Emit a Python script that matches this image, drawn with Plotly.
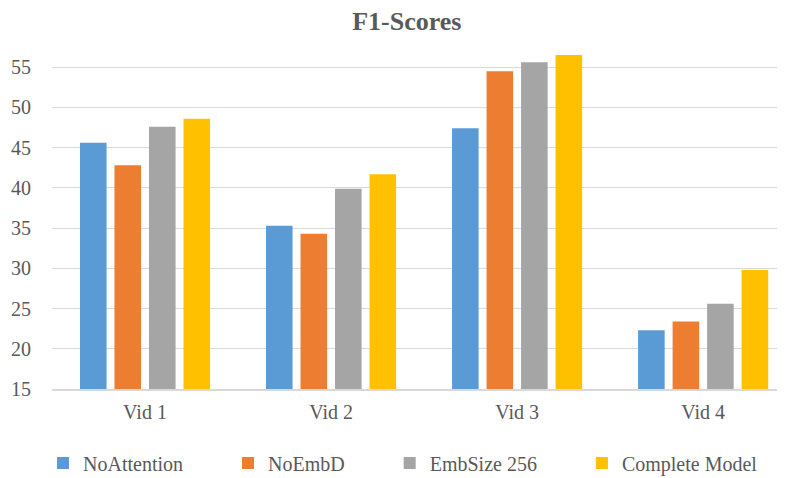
import plotly.graph_objects as go

categories = ["Vid 1", "Vid 2", "Vid 3", "Vid 4"]
series_names = ["NoAttention", "NoEmbD", "EmbSize 256", "Complete Model"]
no_attention = [45.6, 35.3, 47.4, 22.3]
no_embd = [42.8, 34.3, 54.5, 23.4]
emb_size_256 = [47.6, 39.9, 55.6, 25.6]
complete_model = [48.6, 41.7, 56.5, 29.8]
colors = ["#5B9BD5", "#ED7D31", "#A5A5A5", "#FFC000"]
y_ticks = [15, 20, 25, 30, 35, 40, 45, 50, 55]

font_family = "Liberation Serif, Times New Roman, serif"
text_color = "#595959"
pad = "\u00a0" * 8

fig = go.Figure()
all_series = [no_attention, no_embd, emb_size_256, complete_model]
for i, (name, vals, col) in enumerate(zip(series_names, all_series, colors)):
    label = name + (pad if i < len(series_names) - 1 else "")
    fig.add_trace(go.Bar(x=categories, y=vals, name=label,
                         marker=dict(color=col, line=dict(width=0))))

fig.update_layout(
    width=785, height=478,
    margin=dict(l=44, r=8, t=35, b=97, autoexpand=False),
    paper_bgcolor="white", plot_bgcolor="white",
    barmode="group", bargap=0.258, bargroupgap=0.23,
    title=dict(text="<b>F1-Scores</b>", x=0.508, xanchor="center",
               y=0.972, yanchor="middle",
               font=dict(family=font_family, size=26, color=text_color)),
    font=dict(family=font_family, color=text_color, size=20),
    xaxis=dict(range=[-0.5, 3.44], showgrid=False, showline=True,
               linecolor="#D9D9D9", linewidth=1.5, ticks="", ticklabelstandoff=4,
               tickfont=dict(size=20, color=text_color)),
    yaxis=dict(range=[15, 58], tickvals=y_ticks, showgrid=True,
               gridcolor="#D9D9D9", gridwidth=1.2, zeroline=False,
               showline=False, ticks="", ticklabelstandoff=20,
               tickfont=dict(size=20, color=text_color)),
    legend=dict(orientation="h", xref="container", x=0.0446, xanchor="left",
                yref="container", y=0.048, yanchor="middle",
                font=dict(size=20, color=text_color),
                traceorder="normal", itemwidth=30),
    showlegend=True,
)

fig.write_html("out.html")
